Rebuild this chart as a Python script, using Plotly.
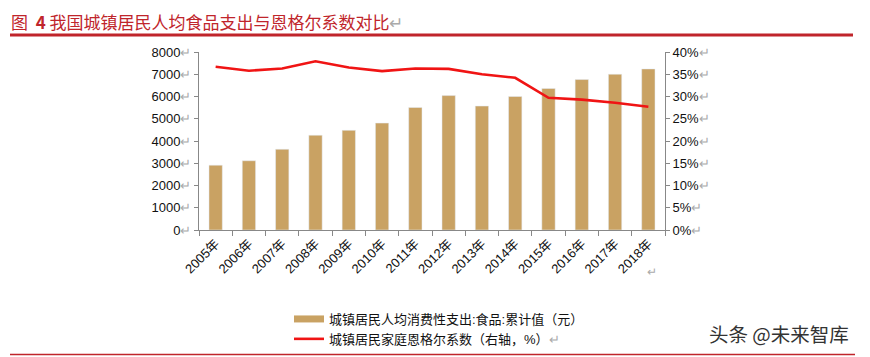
import plotly.graph_objects as go

years = ["2005年", "2006年", "2007年", "2008年", "2009年", "2010年", "2011年",
         "2012年", "2013年", "2014年", "2015年", "2016年", "2017年", "2018年"]
food_spend = [2914, 3112, 3628, 4260, 4479, 4805, 5506, 6041, 5571, 6000, 6360, 6762, 7001, 7239]
engel = [0.367, 0.358, 0.363, 0.379, 0.365, 0.357, 0.363, 0.362, 0.350, 0.342, 0.297, 0.293, 0.286, 0.277]

left_ticks = [0, 1000, 2000, 3000, 4000, 5000, 6000, 7000, 8000]
right_ticks = [0, 0.05, 0.10, 0.15, 0.20, 0.25, 0.30, 0.35, 0.40]
right_labels = ["0%", "5%", "10%", "15%", "20%", "25%", "30%", "35%", "40%"]

bar_name = "城镇居民人均消费性支出:食品:累计值（元）"
line_name = "城镇居民家庭恩格尔系数（右轴，%）<span style='color:#aaa'>↵</span>"

BAR_COLOR = "#C9A263"
LINE_COLOR = "#F01414"
TITLE_RED = "#C0252B"
MARK = "<span style='color:#aaa'>↵</span>"
FONT = "Liberation Sans, Noto Sans CJK SC, sans-serif"

fig = go.Figure()
fig.add_trace(go.Bar(x=years, y=food_spend, marker_color=BAR_COLOR, width=0.4,
                     showlegend=False, name=bar_name))
# legend proxy for the bar series (wide swatch)
fig.add_trace(go.Scatter(x=[None], y=[None], mode="lines", name=bar_name,
                         line=dict(color=BAR_COLOR, width=7)))
fig.add_trace(go.Scatter(x=years, y=engel, mode="lines", name=line_name, yaxis="y2",
                         line=dict(color=LINE_COLOR, width=2.6)))

# page offset of the figure (default body margin)
O = 8
W, H = 870 - O, 357 - O
# plot area in page pixels
L, R, T, B = 199, 665, 52, 230
pw, ph = R - L, B - T

def px_x(x):
    return (x - L) / pw

def px_y(y):
    return (B - y) / ph

fig.update_layout(
    width=W, height=H,
    margin=dict(l=L - O, r=W - (R - O), t=T - O, b=H - (B - O), autoexpand=False),
    paper_bgcolor="white", plot_bgcolor="white",
    font=dict(family=FONT, size=12, color="#111"),
    bargap=0.6,
    xaxis=dict(type="category", showline=True, linecolor="#888", linewidth=1,
               ticks="outside", tickson="boundaries", ticklen=5, tickcolor="#888",
               tickangle=-45, showgrid=False, automargin=False,
               tickfont=dict(size=13, color="#111")),
    yaxis=dict(range=[0, 8000], tickvals=left_ticks,
               ticktext=[f"{v}{MARK}" for v in left_ticks],
               showline=True, linecolor="#888", linewidth=1, ticks="outside",
               ticklen=4, tickcolor="#888", showgrid=False, zeroline=False,
               automargin=False, tickfont=dict(size=13, color="#111")),
    yaxis2=dict(range=[0, 0.4], overlaying="y", side="right", tickvals=right_ticks,
                ticktext=[f"{t}{MARK}" for t in right_labels],
                showline=True, linecolor="#888", linewidth=1, ticks="outside",
                ticklen=4, tickcolor="#888", showgrid=False, zeroline=False,
                automargin=False, tickfont=dict(size=13, color="#111")),
    legend=dict(x=px_x(289), y=px_y(304), xanchor="left", yanchor="top",
                orientation="v", itemwidth=30, tracegroupgap=0,
                font=dict(size=13, color="#111"), bgcolor="rgba(0,0,0,0)"),
    shapes=[
        dict(type="line", xref="paper", yref="paper", x0=px_x(10), x1=px_x(853),
             y0=px_y(35), y1=px_y(35), line=dict(color=TITLE_RED, width=3)),
        dict(type="line", xref="paper", yref="paper", x0=px_x(10), x1=px_x(855),
             y0=px_y(354.5), y1=px_y(354.5), line=dict(color=TITLE_RED, width=1.5)),
    ],
    annotations=[
        dict(xref="paper", yref="paper", x=px_x(10), y=px_y(8), xanchor="left",
             yanchor="top", showarrow=False, borderpad=0,
             text=f"图  <b>4</b> 我国城镇居民人均食品支出与恩格尔系数对比{MARK}",
             font=dict(size=17, color=TITLE_RED, family="Noto Sans CJK SC, sans-serif")),
        dict(xref="paper", yref="paper", x=px_x(652), y=px_y(272), xanchor="center",
             yanchor="middle", showarrow=False, text="↵",
             font=dict(size=12, color="#aaa")),
        dict(xref="paper", yref="paper", x=px_x(851), y=px_y(333), xanchor="right",
             yanchor="middle", showarrow=False, text="头条 @未来智库",
             font=dict(size=19.5, color="#333", family="Noto Sans CJK SC, sans-serif")),
    ],
)

fig.write_html("out.html")
